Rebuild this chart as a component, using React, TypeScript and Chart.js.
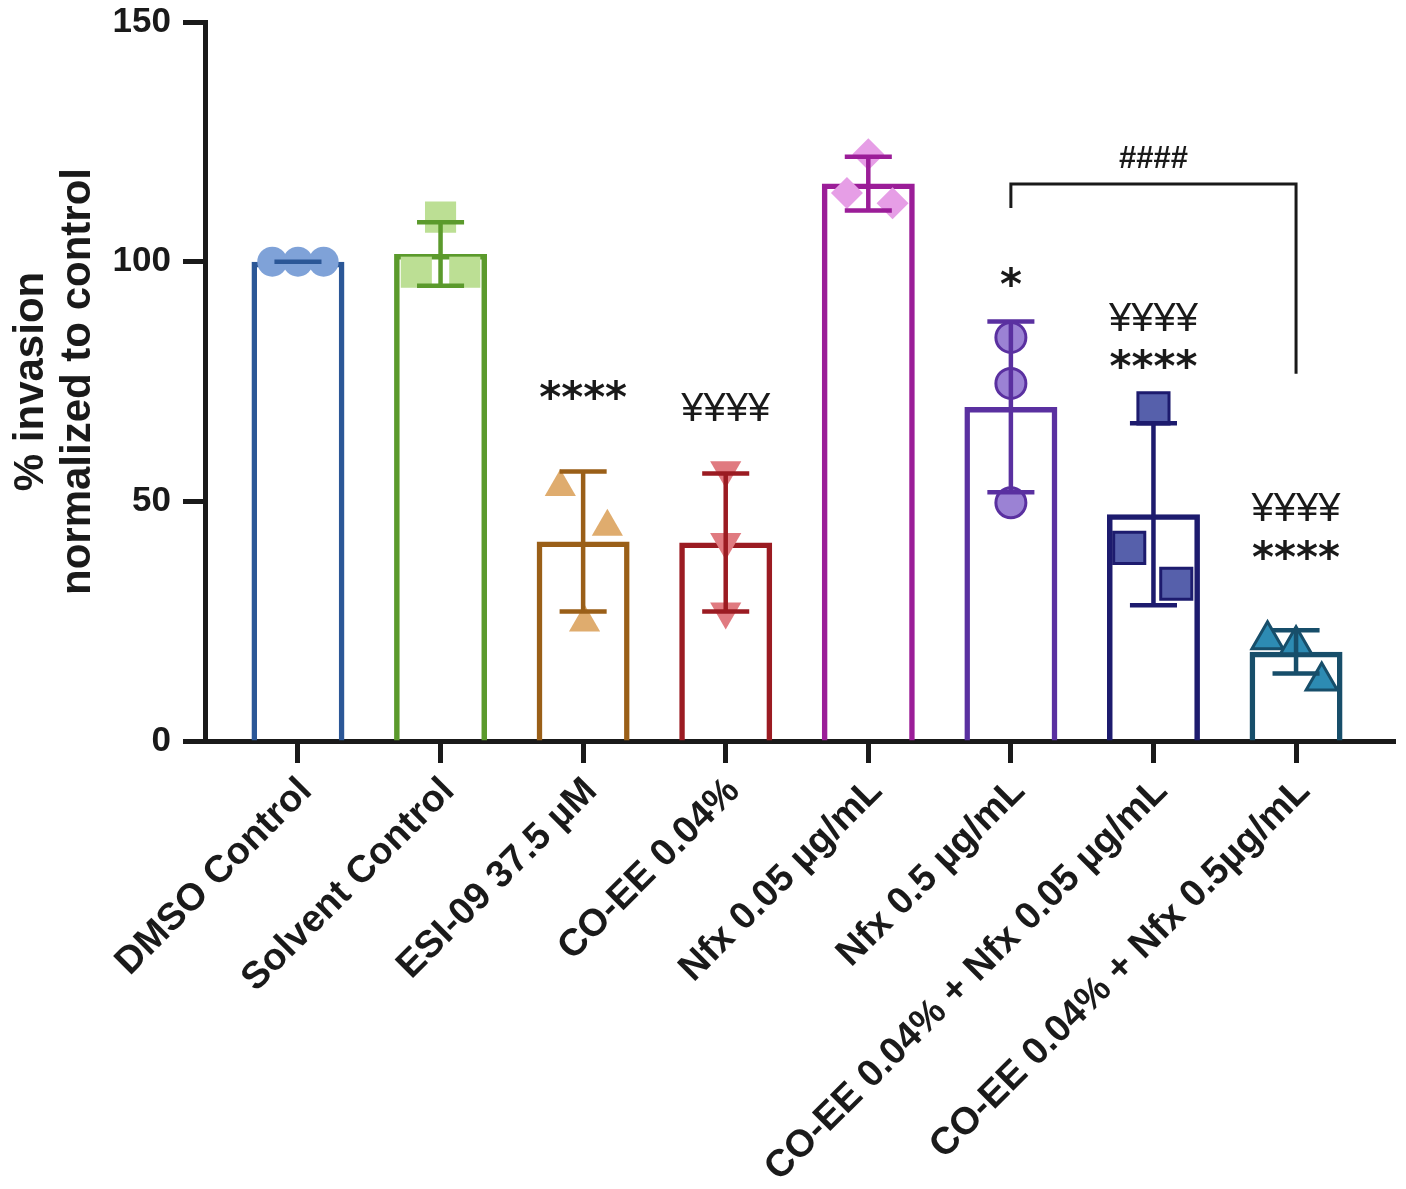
import { useEffect, useRef } from 'react';
import { Chart, registerables } from 'chart.js';
import type { Plugin } from 'chart.js';

Chart.register(...registerables);

// ---- data ----
const groups = [
  'DMSO Control',
  'Solvent Control',
  'ESI-09 37.5 µM',
  'CO-EE 0.04%',
  'Nfx 0.05 µg/mL',
  'Nfx 0.5 µg/mL',
  'CO-EE 0.04% + Nfx 0.05 µg/mL',
  'CO-EE 0.04% + Nfx 0.5µg/mL',
];
const means = [100, 101.6, 41.6, 41.4, 116.3, 69.7, 47.3, 18.6];
const sds   = [0, 6.6, 14.6, 14.4, 5.6, 17.8, 19.0, 4.5];
const replicates = [
  [100, 100, 100],
  [109.3, 97.8, 97.8],
  [53.0, 44.7, 24.7],
  [56.5, 41.5, 27.0],
  [122.4, 114.3, 112.2],
  [84.2, 74.6, 49.7],
  [69.4, 40.3, 32.8],
  [21.1, 20.1, 12.5],
];
// horizontal scatter of the replicate dots, in category units
const jitter = [
  [-0.18, 0, 0.18],
  [0, -0.17, 0.17],
  [-0.16, 0.17, 0.01],
  [0, 0, 0],
  [0, -0.15, 0.17],
  [0, 0, 0],
  [0, -0.17, 0.16],
  [-0.2, 0, 0.18],
];
const yTicks = [0, 50, 100, 150];
const marks = [
  { group: 2, y: 73.3, text: '****' },
  { group: 3, y: 69.6, text: '¥¥¥¥' },
  { group: 5, y: 96.9, text: '*' },
  { group: 6, y: 88.4, text: '¥¥¥¥' },
  { group: 6, y: 79.6, text: '****' },
  { group: 7, y: 48.9, text: '¥¥¥¥' },
  { group: 7, y: 39.9, text: '****' },
  { group: 6, y: 121.8, text: '####' },
];
const bracketX = [5, 5, 7, 7];
const bracketY = [111.2, 116.2, 116.2, 76.6];

// ---- styling ----
const INK = '#1a1a1a';
const FONT = 'Arial, "Liberation Sans", Helvetica, sans-serif';
const edge = ['#2b5797', '#5b9a2c', '#9a5f18', '#9b1b22', '#9b1d98', '#5a30a0', '#1d1b6e', '#174e6a'];
const dot  = ['#7fa2d8', '#bcdf94', '#dfac6e', '#e07a80', '#e69ee6', '#9b82d4', '#5660ab', '#2d8bb3'];
const dotStyle = ['circle', 'rect', 'triangle', 'triangle', 'rectRot', 'circle', 'rect', 'triangle'] as const;
const dotRot   = [0, 0, 0, 180, 0, 0, 0, 0];
const dotSize  = [15, 22, 18, 18, 16, 15, 22, 18];
const dotEdge  = [0, 0, 0, 0, 0, 3, 3, 3];
const CAP = 0.165;

function markFont(t: string) {
  if (t.startsWith('¥')) return `40px ${FONT}`;
  if (t.startsWith('#')) return `bold 31px ${FONT}`;
  return `bold 42px "DejaVu Sans", ${FONT}`;
}

const sigMarks: Plugin<'bar'> = {
  id: 'sigMarks',
  afterDatasetsDraw(chart) {
    const { ctx } = chart;
    const x = chart.scales.x;
    const y = chart.scales.y;
    ctx.save();
    ctx.fillStyle = INK;
    ctx.textAlign = 'center';
    ctx.textBaseline = 'alphabetic';
    for (const m of marks) {
      ctx.font = markFont(m.text);
      const tm = ctx.measureText(m.text);
      const px = x.getPixelForValue(m.group);
      const py = y.getPixelForValue(m.y) + (tm.actualBoundingBoxAscent - tm.actualBoundingBoxDescent) / 2;
      ctx.fillText(m.text, px, py);
    }
    ctx.restore();
  },
};

export default function App() {
  const canvasRef = useRef<HTMLCanvasElement>(null);

  useEffect(() => {
    if (!canvasRef.current) return;

    const errorSets = means.map((m, i) => ({
      type: 'line' as const,
      data: [
        { x: i, y: m + sds[i] }, { x: i, y: m - sds[i] }, { x: i, y: null },
        { x: i - CAP, y: m + sds[i] }, { x: i + CAP, y: m + sds[i] }, { x: i, y: null },
        { x: i - CAP, y: m - sds[i] }, { x: i + CAP, y: m - sds[i] },
      ],
      borderColor: edge[i],
      borderWidth: 4.5,
      borderCapStyle: 'butt' as const,
      pointRadius: 0,
      spanGaps: false,
      fill: false,
      order: 1,
    }));

    const dotSets = replicates.map((vals, i) => ({
      type: 'scatter' as const,
      data: vals.map((v, j) => ({ x: i + jitter[i][j], y: v })),
      pointStyle: dotStyle[i],
      pointRotation: dotRot[i],
      pointRadius: dotSize[i],
      backgroundColor: dot[i],
      borderColor: dotEdge[i] ? edge[i] : dot[i],
      pointBorderWidth: dotEdge[i],
      order: 2,
    }));

    const chart = new Chart(canvasRef.current, {
      type: 'bar',
      data: {
        datasets: [
          {
            type: 'bar',
            data: means.map((m, i) => ({ x: i, y: m })),
            backgroundColor: 'rgba(255,255,255,0)',
            borderColor: edge,
            borderWidth: 5.5,
            barPercentage: 0.652,
            categoryPercentage: 1,
            order: 3,
          },
          ...dotSets,
          ...errorSets,
          {
            type: 'line',
            data: bracketX.map((bx, k) => ({ x: bx, y: bracketY[k] })),
            borderColor: INK,
            borderWidth: 3,
            pointRadius: 0,
            fill: false,
            order: 0,
          },
        ] as any,
      },
      options: {
        responsive: false,
        animation: false,
        events: [],
        layout: { autoPadding: false, padding: { top: 22, right: 11, bottom: 0, left: 0 } },
        plugins: { legend: { display: false }, tooltip: { enabled: false } },
        scales: {
          x: {
            type: 'linear',
            min: -0.652,
            max: 7.694,
            offset: false,
            z: 1,
            border: { color: INK, width: 5 },
            grid: { offset: false, drawOnChartArea: false, tickLength: 22, tickWidth: 5, tickColor: INK },
            afterBuildTicks: s => { s.ticks = groups.map((_, i) => ({ value: i })); },
            afterFit: s => {
              s.height = 448;
              s.paddingLeft = 0;
              s.paddingRight = 0;
            },
            ticks: {
              autoSkip: false,
              minRotation: 45,
              maxRotation: 45,
              padding: 6,
              labelOffset: 8,
              color: INK,
              font: { family: FONT, size: 38, weight: 'bold' },
              callback: v => groups[v as number] ?? '',
            },
          },
          y: {
            min: 0,
            max: 150,
            border: { color: INK, width: 5 },
            grid: { drawOnChartArea: false, tickLength: 22, tickWidth: 5, tickColor: INK },
            afterBuildTicks: s => { s.ticks = yTicks.map(v => ({ value: v })); },
            afterFit: s => {
              s.width = 205;
              s.paddingTop = 0;
              s.paddingBottom = 0;
            },
            ticks: {
              padding: 12,
              color: INK,
              font: { family: FONT, size: 35, weight: 'bold' },
            },
            title: {
              display: true,
              text: ['% invasion', 'normalized to control'],
              color: INK,
              font: { family: FONT, size: 42, weight: 'bold', lineHeight: 1.12 },
              padding: { top: 8, bottom: 0 },
            },
          },
        },
      },
      plugins: [sigMarks],
    });

    return () => chart.destroy();
  }, []);

  return (
    <div style={{ position: 'fixed', left: 0, top: 0, width: 1406, height: 1189, background: '#fff' }}>
      <canvas ref={canvasRef} width={1406} height={1189} />
    </div>
  );
}
